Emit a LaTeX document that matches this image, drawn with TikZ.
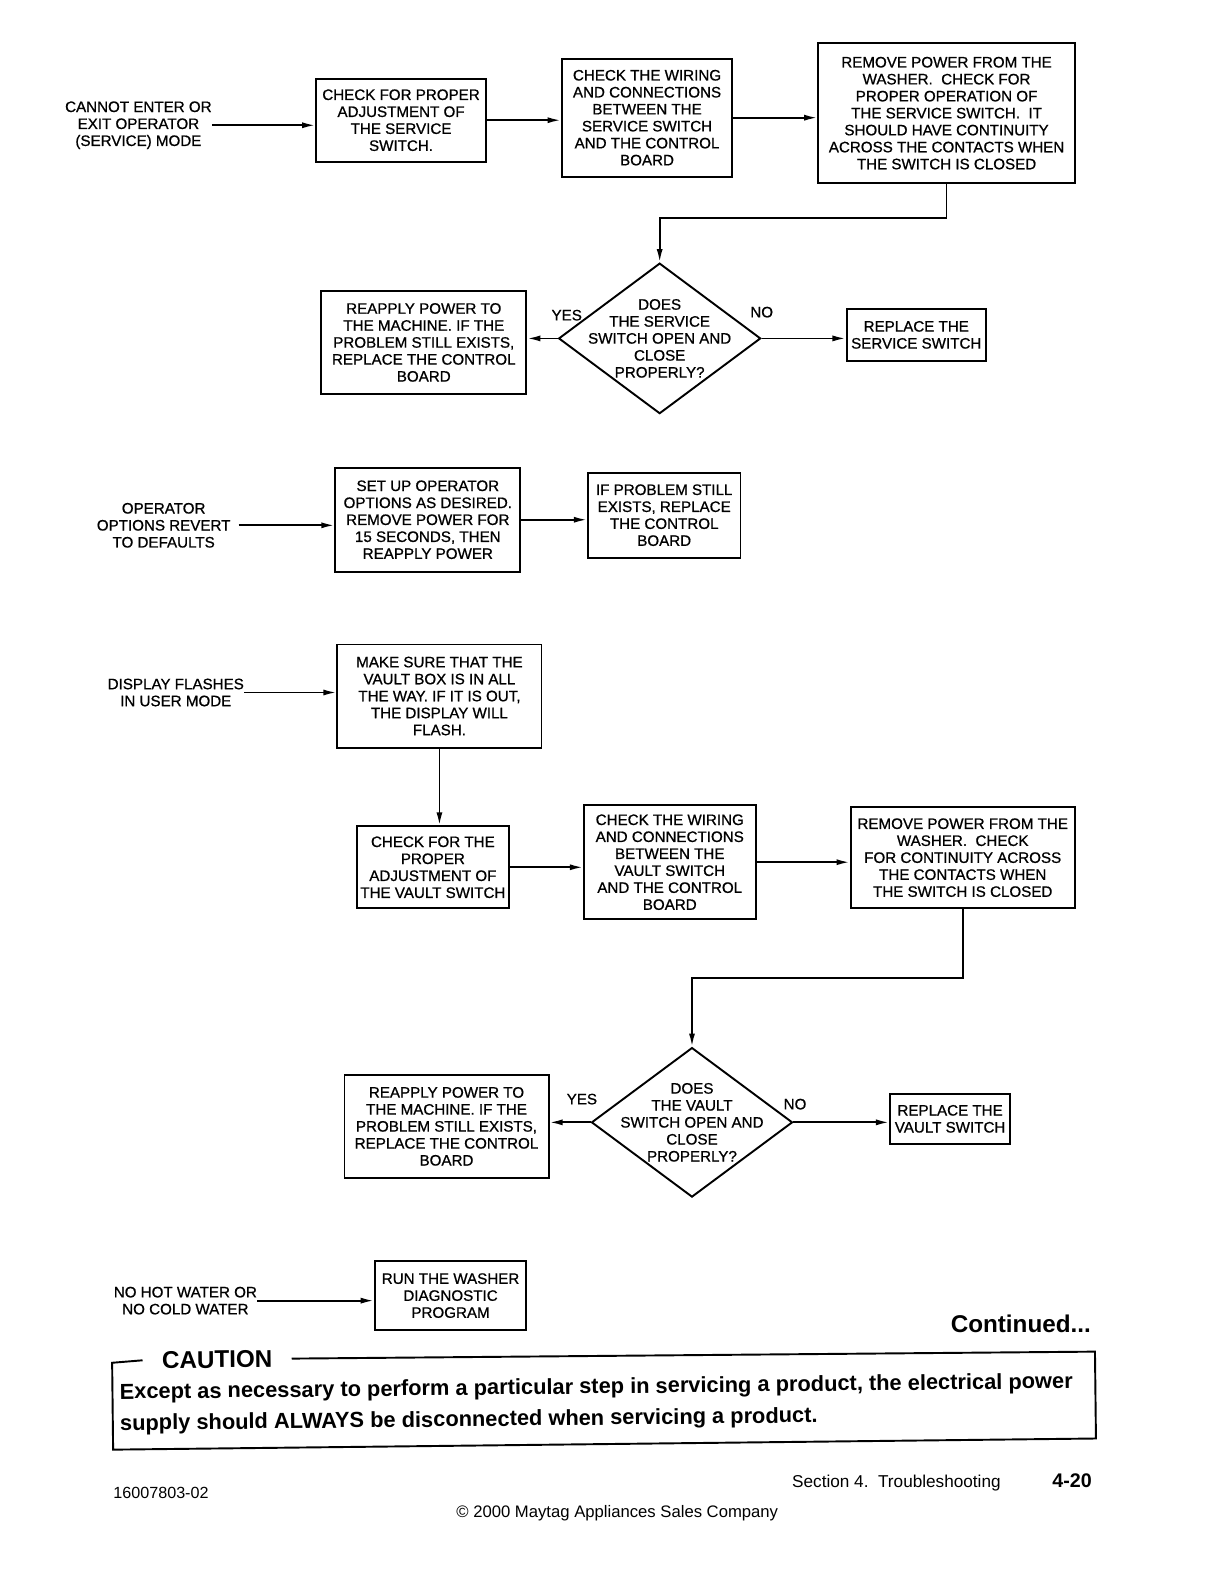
\documentclass[tikz,border=0pt]{standalone}
\usepackage{fontspec}
\setmainfont{Liberation Sans}
\newfontfamily\flowfont{Liberation Sans}[FakeBold=0.8]
\usetikzlibrary{arrows.meta,shapes.geometric,calc}
\newcommand\boxfont{\flowfont\fontsize{15}{16.8}\selectfont}
\begin{document}
\begin{tikzpicture}[x=1pt,y=-1pt,
  box/.style={draw, line width=1.9pt, rectangle, inner sep=0pt, align=center, font=\boxfont},
  lbl/.style={inner sep=0pt, align=center, font=\boxfont},
  dia/.style={draw, diamond, line width=1.9pt, inner sep=0pt},
  arr/.style={line width=1.8pt, -{Latex[length=13pt,width=6pt]}},
  frame/.style={line width=1.9pt}
]
\fill[white] (0,0) rectangle (1203,1568);
\useasboundingbox (0,0) rectangle (1203,1568);

% ---------- Row 1 ----------
\node[lbl] (l1) at (137,124) {CANNOT ENTER OR\\EXIT OPERATOR\\(SERVICE) MODE};
\node[box, minimum width=168, minimum height=82] (a) at (397,119) {CHECK FOR PROPER\\ADJUSTMENT OF\\THE SERVICE\\SWITCH.};
\node[box, minimum width=169, minimum height=117] (b) at (640.5,116.5) {CHECK THE WIRING\\AND CONNECTIONS\\BETWEEN THE\\SERVICE SWITCH\\AND THE CONTROL\\BOARD};
\node[box, minimum width=254, minimum height=138] (c) at (937,112) {REMOVE POWER FROM THE\\WASHER.\ \ CHECK FOR\\PROPER OPERATION OF\\THE SERVICE SWITCH.\ \ IT\\SHOULD HAVE CONTINUITY\\ACROSS THE CONTACTS WHEN\\THE SWITCH IS CLOSED};
\node[dia, minimum width=200, minimum height=149] (d1) at (653,335) {};
\node[lbl] (d1t) at (653,335) {DOES\\THE SERVICE\\SWITCH OPEN AND\\CLOSE\\PROPERLY?};
\node[box, minimum width=203, minimum height=102] (e) at (419.5,339) {REAPPLY POWER TO\\THE MACHINE. IF THE\\PROBLEM STILL EXISTS,\\REPLACE THE CONTROL\\BOARD};
\node[box, minimum width=138, minimum height=51] (f) at (907,331.5) {REPLACE THE\\SERVICE SWITCH};
\node[lbl] (yes1) at (561,312) {YES};
\node[lbl] (no1) at (754,309) {NO};

\draw[arr] (l1.east) -- (l1.east -| a.west);
\draw[arr] (a.east) -- (a.east -| b.west);
\draw[arr] (b.east) -- (b.east -| c.west);
\draw[arr] (c.south) -- ++(0,34) -| (d1.north);
\draw[arr] (d1.west) -- (d1.west -| e.east);
\draw[arr] (d1.east) -- (d1.east -| f.west);

% ---------- Row 2 ----------
\node[lbl] (l2) at (162,520) {OPERATOR\\OPTIONS REVERT\\TO DEFAULTS};
\node[box, minimum width=183, minimum height=103] (g) at (423.5,514.5) {SET UP OPERATOR\\OPTIONS AS DESIRED.\\REMOVE POWER FOR\\15 SECONDS, THEN\\REAPPLY POWER};
\node[box, minimum width=151, minimum height=84] (h) at (657.5,510) {IF PROBLEM STILL\\EXISTS, REPLACE\\THE CONTROL\\BOARD};
\draw[arr] ($(l2.east)+(8,0)$) -- (l2.east -| g.west);
\draw[arr] (g.east) -- (g.east -| h.west);

% ---------- Row 3 ----------
\node[lbl] (l3) at (174,685.5) {DISPLAY FLASHES\\IN USER MODE};
\node[box, minimum width=202, minimum height=102] (i) at (435,689) {MAKE SURE THAT THE\\VAULT BOX IS IN ALL\\THE WAY. IF IT IS OUT,\\THE DISPLAY WILL\\FLASH.};
\node[box, minimum width=151, minimum height=81] (j) at (428.5,858.5) {CHECK FOR THE\\PROPER\\ADJUSTMENT OF\\THE VAULT SWITCH};
\node[box, minimum width=170, minimum height=113] (k) at (663,853.5) {CHECK THE WIRING\\AND CONNECTIONS\\BETWEEN THE\\VAULT SWITCH\\AND THE CONTROL\\BOARD};
\node[box, minimum width=222, minimum height=100] (lb) at (953,849) {REMOVE POWER FROM THE\\WASHER.\ \ CHECK\\FOR CONTINUITY ACROSS\\THE CONTACTS WHEN\\THE SWITCH IS CLOSED};
\node[dia, minimum width=199, minimum height=148] (d2) at (685,1111) {};
\node[lbl] (d2t) at (685,1111) {DOES\\THE VAULT\\SWITCH OPEN AND\\CLOSE\\PROPERLY?};
\node[box, minimum width=202, minimum height=102] (m) at (442,1115) {REAPPLY POWER TO\\THE MACHINE. IF THE\\PROBLEM STILL EXISTS,\\REPLACE THE CONTROL\\BOARD};
\node[box, minimum width=119, minimum height=49] (n) at (940.5,1107.5) {REPLACE THE\\VAULT SWITCH};
\node[lbl] (yes2) at (576,1088) {YES};
\node[lbl] (no2) at (787,1093) {NO};

\draw[arr] (l3.east) -- (l3.east -| i.west);
\draw[arr] (i.south) -- (i.south |- j.north);
\draw[arr] (j.east) -- (j.east -| k.west);
\draw[arr] (k.east) -- (k.east -| lb.west);
\draw[arr] (lb.south) -- ++(0,68) -| (d2.north);
\draw[arr] (d2.west) -- (d2.west -| m.east);
\draw[arr] (d2.east) -- (d2.east -| n.west);

% ---------- Row 4 ----------
\node[lbl] (l4) at (183.5,1287.5) {NO HOT WATER OR\\NO COLD WATER};
\node[box, minimum width=150, minimum height=69] (o) at (446,1282.5) {RUN THE WASHER\\DIAGNOSTIC\\PROGRAM};
\draw[arr] (l4.east) -- (l4.east -| o.west);

\node[inner sep=0pt, anchor=east, font=\bfseries\fontsize{24}{28}\selectfont] (cont) at (1080,1310) {Continued...};

% ---------- Caution (scan is slightly tilted) ----------
\begin{scope}[rotate around={0.65:(111,1349)}]
\node[inner xsep=19pt, inner ysep=0pt, font=\bfseries\fontsize{24}{26}\selectfont, transform shape] (caut) at (215,1347) {CAUTION};
\draw[frame] (caut.west) -- (111,1349) -- (111,1435) -- (1084,1435) -- (1084,1349) -- (caut.east);
\node[inner sep=0pt, anchor=west, align=left, transform shape, font=\bfseries\fontsize{21.6}{31}\selectfont] (ctext) at (118,1395)
  {Except as necessary to perform a particular step in servicing a product, the electrical power\\supply should ALWAYS be disconnected when servicing a product.};
\end{scope}

% ---------- Footer ----------
\node[inner sep=0pt, anchor=west, font=\fontsize{16}{18}\selectfont] (docno) at (112,1478) {16007803-02};
\node[inner sep=0pt, anchor=west, font=\fontsize{17}{19}\selectfont] (sect) at (784,1468) {Section 4.\ \ Troubleshooting};
\node[inner sep=0pt, anchor=east, font=\bfseries\fontsize{19.5}{22}\selectfont] (pg) at (1081,1466) {4-20};
\node[inner sep=0pt, font=\fontsize{16.5}{18}\selectfont] (copy) at (611,1498) {\textcopyright\ 2000 Maytag Appliances Sales Company};
\end{tikzpicture}
\end{document}
